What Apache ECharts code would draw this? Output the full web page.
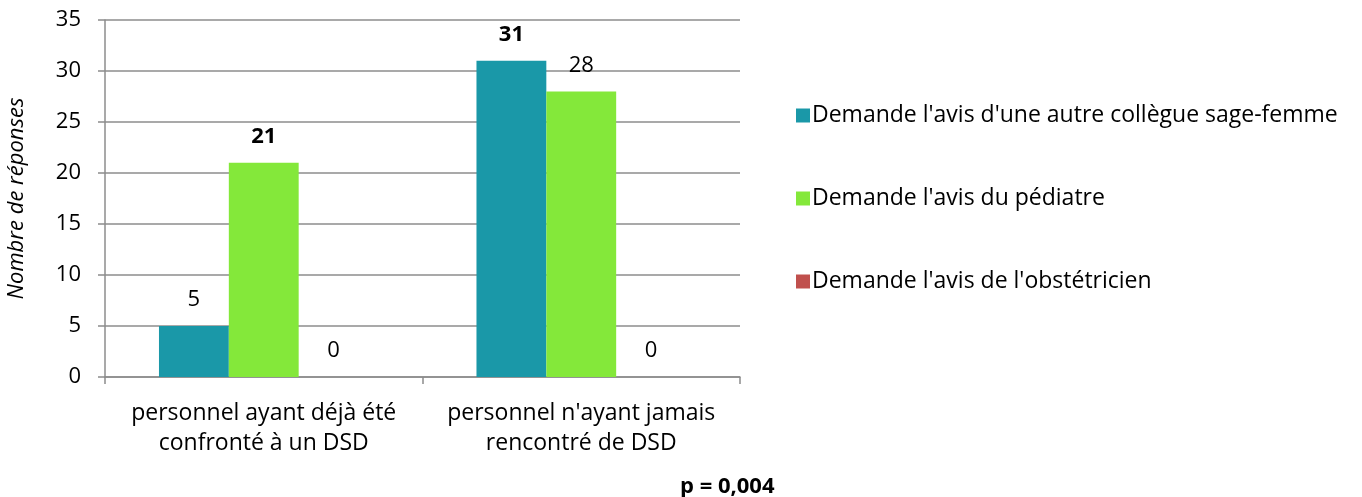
<!DOCTYPE html>
<html><head><meta charset="utf-8">
<script src="https://cdn.jsdelivr.net/npm/echarts@6/dist/echarts.min.js"></script>
<style>html,body{margin:0;padding:0;background:#fff}#c{width:1362px;height:497px}</style>
</head><body><div id="c"></div>
<script>
const categories = ["personnel ayant déjà été\nconfronté à un DSD", "personnel n'ayant jamais\nrencontré de DSD"];
const seriesNames = ["Demande l'avis d'une autre collègue sage-femme", "Demande l'avis du pédiatre", "Demande l'avis de l'obstétricien"];
const sageFemme = [5, 31];
const pediatre = [21, 28];
const obstetricien = [0, 0];
const yTicks = [0, 5, 10, 15, 20, 25, 30, 35];
const yTitle = "Nombre de réponses";
const pValue = "p = 0,004";

const colors = ['#1A98A8', '#84E83A', '#C0504D'];
const FONT = 'Open Sans';
const FS = 23;
const FS2 = 22;
// which labels are bold: [seriesIndex, dataIndex]
const boldMarks = [[0, 1], [1, 0]];

function buildData(vals, si) {
  return vals.map((v, di) => {
    const bold = boldMarks.some(b => b[0] === si && b[1] === di);
    return { value: v, label: { fontWeight: bold ? 'bold' : 'normal' } };
  });
}
const allVals = [sageFemme, pediatre, obstetricien];

const chart = echarts.init(document.getElementById('c'), null, { renderer: 'canvas' });
chart.setOption({
  animation: false,
  textStyle: { fontFamily: FONT },
  grid: { left: 105, right: 622, top: 20, bottom: 120, containLabel: false },
  legend: {
    orient: 'vertical', left: 791, top: 99, itemGap: 60,
    itemWidth: 14, itemHeight: 14, icon: 'rect',
    textStyle: { fontFamily: FONT, fontSize: FS, color: '#000', padding: [0, 0, 0, -3] },
    data: seriesNames
  },
  xAxis: {
    type: 'category', data: categories,
    axisLine: { lineStyle: { color: '#8c8c8c', width: 1.5 } },
    axisTick: { show: true, alignWithLabel: false, length: 7, lineStyle: { color: '#8c8c8c', width: 1.5 } },
    axisLabel: { fontFamily: FONT, fontSize: FS, color: '#000', lineHeight: 30, margin: 21, interval: 0 }
  },
  yAxis: {
    type: 'value', min: 0, max: 35, interval: 5,
    name: yTitle, nameLocation: 'middle', nameGap: 77, nameRotate: 90,
    nameTextStyle: { fontFamily: FONT, fontSize: FS2, fontStyle: 'italic', color: '#000' },
    axisLine: { show: true, lineStyle: { color: '#8c8c8c', width: 1.5 } },
    axisTick: { show: true, length: 7, lineStyle: { color: '#8c8c8c', width: 1.5 } },
    axisLabel: { fontFamily: FONT, fontSize: FS2, color: '#000', margin: 24,
      formatter: v => yTicks.includes(v) ? String(v) : '' },
    splitLine: { lineStyle: { color: '#8c8c8c', width: 1.5 } }
  },
  series: allVals.map((vals, si) => ({
    name: seriesNames[si], type: 'bar', data: buildData(vals, si),
    itemStyle: { color: colors[si] },
    barGap: '0%', barCategoryGap: '34%',
    label: { show: true, position: 'top', distance: 15, fontFamily: FONT, fontSize: FS2, color: '#000' }
  })),
  graphic: [{
    type: 'text', left: 680, top: 476,
    style: { text: pValue, fontFamily: FONT, fontSize: FS2, fontWeight: 'bold', fill: '#000' }
  }]
});
</script></body></html>
